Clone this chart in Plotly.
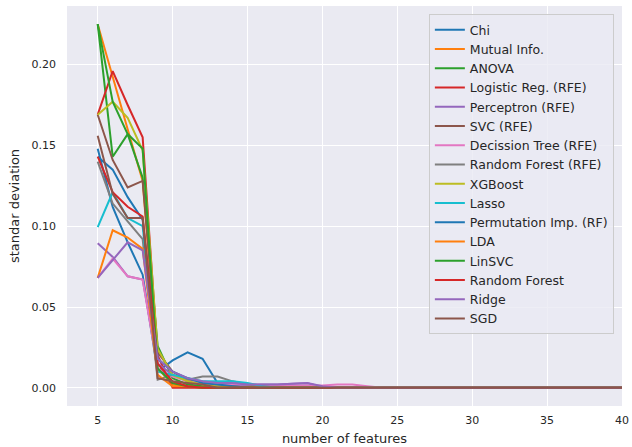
import plotly.graph_objects as go

features = list(range(5, 41))

def pad(vals):
    return vals + [0.0] * (len(features) - len(vals))

names = ["Chi", "Mutual Info.", "ANOVA", "Logistic Reg. (RFE)", "Perceptron (RFE)",
         "SVC (RFE)", "Decission Tree (RFE)", "Random Forest (RFE)", "XGBoost", "Lasso",
         "Permutation Imp. (RF)", "LDA", "LinSVC", "Random Forest", "Ridge", "SGD"]

chi = [0.148, 0.112, 0.090, 0.070, 0.010, 0.017, 0.022, 0.018, 0.003, 0.002, 0.001, 0.001, 0.001, 0.0005, 0.0003]
mutual_info = [0.225, 0.192, 0.160, 0.128, 0.012, 0.002, 0.001, 0.001]
anova = [0.225, 0.143, 0.157, 0.130, 0.026, 0.006, 0.002, 0.001]
logistic_rfe = [0.169, 0.196, 0.175, 0.155, 0.020, 0.0]
perceptron_rfe = [0.0895, 0.081, 0.069, 0.067, 0.015, 0.008, 0.004, 0.003, 0.002, 0.002, 0.002, 0.002, 0.002, 0.0025, 0.0028, 0.0005]
svc_rfe = [0.169, 0.141, 0.124, 0.128, 0.022, 0.010, 0.005, 0.003, 0.002, 0.001]
dtree_rfe = [0.068, 0.080, 0.069, 0.067, 0.012, 0.007, 0.004, 0.003, 0.002, 0.002, 0.002, 0.0015, 0.0015, 0.0015, 0.0015, 0.0015, 0.002, 0.002, 0.001]
rf_rfe = [0.140, 0.114, 0.103, 0.092, 0.005, 0.008, 0.005, 0.007, 0.007, 0.004, 0.002, 0.001]
xgboost = [0.169, 0.177, 0.167, 0.147, 0.024, 0.008, 0.004, 0.002, 0.001]
lasso = [0.0994, 0.121, 0.105, 0.100, 0.010, 0.008, 0.006, 0.004, 0.004, 0.004, 0.003, 0.001]
permutation_rf = [0.143, 0.135, 0.118, 0.104, 0.018, 0.010, 0.006, 0.003, 0.002, 0.001]
lda = [0.068, 0.0975, 0.093, 0.086, 0.008, 0.001, 0.001]
linsvc = [0.225, 0.177, 0.157, 0.148, 0.012, 0.003, 0.001]
random_forest = [0.143, 0.121, 0.112, 0.106, 0.015, 0.004, 0.001]
ridge = [0.068, 0.079, 0.090, 0.085, 0.018, 0.010, 0.006, 0.004, 0.003, 0.003, 0.002, 0.002, 0.002, 0.0025, 0.003, 0.001]
sgd = [0.156, 0.120, 0.105, 0.105, 0.006, 0.004, 0.003, 0.002]

series = [chi, mutual_info, anova, logistic_rfe, perceptron_rfe, svc_rfe, dtree_rfe, rf_rfe,
          xgboost, lasso, permutation_rf, lda, linsvc, random_forest, ridge, sgd]

x_ticks = [5, 10, 15, 20, 25, 30, 35, 40]
y_ticks = [0.00, 0.05, 0.10, 0.15, 0.20]
y_tick_labels = ["0.00", "0.05", "0.10", "0.15", "0.20"]

tab10 = ["#1f77b4", "#ff7f0e", "#2ca02c", "#d62728", "#9467bd",
         "#8c564b", "#e377c2", "#7f7f7f", "#bcbd22", "#17becf"]

fig = go.Figure()
for i, (name, vals) in enumerate(zip(names, series)):
    fig.add_trace(go.Scatter(x=features, y=pad(vals), mode="lines", name=name,
                             line=dict(color=tab10[i % 10], width=2)))

font = dict(family="DejaVu Sans", size=11, color="#262626")
fig.update_layout(
    width=632, height=447,
    margin=dict(l=67, r=10, t=6, b=41, autoexpand=False),
    paper_bgcolor="white", plot_bgcolor="#EAEAF2",
    font=font,
    showlegend=True,
    legend=dict(x=0.652, y=0.98, xanchor="left", yanchor="top",
                bgcolor="rgba(234,234,242,0.8)", bordercolor="#cccccc", borderwidth=1,
                font=dict(family="DejaVu Sans", size=12.5, color="#262626"),
                tracegroupgap=0),
)
fig.update_xaxes(range=[2.95, 40], tickvals=x_ticks, showgrid=True, gridcolor="white",
                 gridwidth=1, zeroline=False, showline=False, ticks="",
                 ticklabelstandoff=6, automargin=False,
                 title=dict(text="number of features", standoff=7), tickfont=font)
fig.update_yaxes(range=[-0.01125, 0.23625], tickvals=y_ticks, ticktext=y_tick_labels,
                 showgrid=True, gridcolor="white", gridwidth=1, zeroline=False,
                 showline=False, ticks="", ticklabelstandoff=10, automargin=False,
                 title=dict(text="standar deviation", standoff=8),
                 tickfont=font)

fig.write_html("out.html", config={"displayModeBar": False},
               post_script="document.body.style.margin='0';")
